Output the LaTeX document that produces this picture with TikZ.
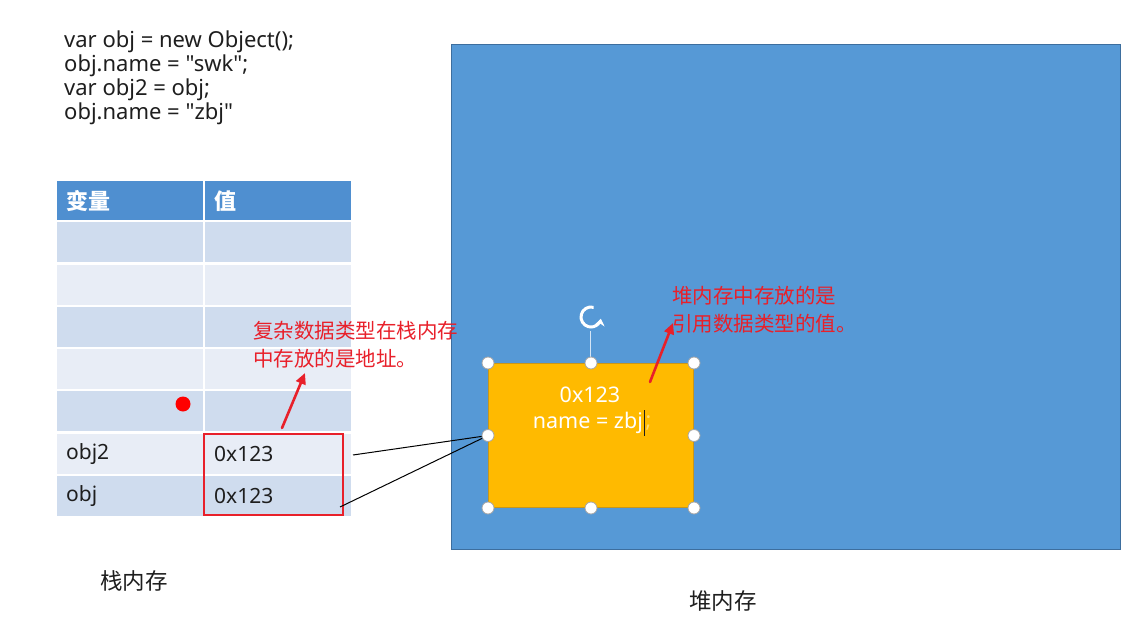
\documentclass[tikz,border=0pt]{standalone}
\usepackage{fontspec}
\newfontfamily\latin{Noto Sans}
\newfontfamily\cjk{Noto Sans CJK SC}
\usetikzlibrary{arrows.meta,calc}

\definecolor{hdrblue}{HTML}{4F8FD0}
\definecolor{rowdark}{HTML}{CFDCEE}
\definecolor{rowlight}{HTML}{E8EDF6}
\definecolor{heapblue}{HTML}{5699D6}
\definecolor{heapedge}{HTML}{3D6E9E}
\definecolor{objorange}{HTML}{FFBA00}
\definecolor{objedge}{HTML}{C8961A}
\definecolor{notered}{HTML}{E8202A}
\definecolor{ink}{HTML}{1E1E1E}

\tikzset{
  txt/.style={font=\latin\fontsize{21.5}{24}\selectfont, text=ink, inner sep=0pt},
  codetxt/.style={font=\latin\fontsize{22}{24}\selectfont, text=ink, inner sep=0pt},
  cjktxt/.style={font=\cjk\fontsize{22.5}{24}\selectfont, text=ink, inner sep=0pt},
  cell/.style={anchor=north west, minimum height=40pt, text width=128pt,
    inner xsep=9pt, inner ysep=0pt, align=left, text=ink,
    font=\latin\fontsize{21}{24}\selectfont},
  hdrcell/.style={cell, fill=hdrblue, minimum height=39pt, text=white,
    font=\cjk\fontsize{22}{24}\selectfont\bfseries},
  darkcell/.style={cell, fill=rowdark},
  lightcell/.style={cell, fill=rowlight},
  note/.style={font=\cjk\fontsize{20.5}{26}\selectfont, text=notered, inner sep=0pt, anchor=base west},
  notearrow/.style={draw=notered, line width=2.6pt, line cap=round,
    -{Triangle[length=11pt,width=10pt]}},
  handle/.style={circle, minimum size=12pt, inner sep=0pt, fill=white, draw=black!35, line width=0.8pt},
  link/.style={draw=black, line width=1pt},
}

\begin{document}
\begin{tikzpicture}[x=1pt,y=-1pt]
\useasboundingbox (0,0) rectangle (1145,631);

% code listing
\node[codetxt, anchor=north west, align=left] (code) at (64,31)
  {var obj = new Object();\\obj.name = "swk";\\var obj2 = obj;\\obj.name = "zbj"};

% stack table
\node[hdrcell] (hv) at (57,181) {变量};
\node[hdrcell] (hw) at (205,181) {值};
\node[darkcell]  (v1) at (57,222.0) {};
\node[darkcell]  (w1) at (205,222.0) {};
\node[lightcell] (v2) at (57,264.3) {};
\node[lightcell] (w2) at (205,264.3) {};
\node[darkcell]  (v3) at (57,306.6) {};
\node[darkcell]  (w3) at (205,306.6) {};
\node[lightcell] (v4) at (57,348.9) {};
\node[lightcell] (w4) at (205,348.9) {};
\node[darkcell]  (v5) at (57,391.2) {};
\node[darkcell]  (w5) at (205,391.2) {};
\node[lightcell] (v6) at (57,433.5) {obj2};
\node[lightcell] (w6) at (205,433.5) {0x123};
\node[darkcell]  (v7) at (57,475.8) {obj};
\node[darkcell]  (w7) at (205,475.8) {0x123};

% marker dot
\node[circle, fill=red, minimum size=15pt, inner sep=0pt] (dot) at (183,404) {};

% highlighted address cells
\node[draw=notered, line width=1.6pt, minimum width=139pt, minimum height=81pt,
  anchor=north west, inner sep=0pt] (addr) at (203,433) {};

% heap area
\node[fill=heapblue, draw=heapedge, line width=1.2pt, minimum width=669pt,
  minimum height=505pt, anchor=north west, inner sep=0pt] (heap) at (451,44) {};

% object on the heap
\node[fill=objorange, draw=objedge, line width=1pt, minimum width=205pt,
  minimum height=144pt, anchor=north west, inner sep=0pt] (obj) at (488,363) {};
\node[txt, text=white] (addrtxt) at (590,395) {0x123};
\node[txt, text=white, anchor=east] (nametxt) at (643,423) {name = zbj};
\node[txt, text=objorange!55!white, anchor=west] (semi) at (645.5,423) {;};
\draw[ink, line width=1pt] (644.5,410) -- (644.5,436);

% rotation grip
\draw[white!75!heapblue, line width=1pt] (590,331) -- (590,357);
\coordinate (rot) at (591,317);
\draw[white, line width=3pt, -{Stealth[length=7pt,width=10pt]}]
  ($(rot)+(285:10)$) arc[start angle=285, end angle=10, radius=10];

% selection handles
\foreach \a/\n in {north west/h1, north/h2, north east/h3, east/h4,
                   south east/h5, south/h6, south west/h7, west/h8}
  \node[handle] (\n) at (obj.\a) {};

% references from the stack to the object
\coordinate (s2) at (353,455);
\coordinate (s1) at (340,507);
\draw[link] (s2) -- (h8);
\draw[link] (s1) -- (h8);

% notes
\node[note] (n1a) at (253,338) {复杂数据类型在栈内存};
\node[note] (n1b) at (253,366) {中存放的是地址。};
\coordinate (a1s) at (282,428);
\coordinate (a1e) at (305,373);
\draw[notearrow] (a1s) -- (a1e);

\node[note] (n2a) at (672,303) {堆内存中存放的是};
\node[note] (n2b) at (672,331) {引用数据类型的值。};
\coordinate (a2s) at (650,382);
\coordinate (a2e) at (673,323);
\draw[notearrow] (a2s) -- (a2e);

% captions
\node[cjktxt] (stackcap) at (134,581) {栈内存};
\node[cjktxt] (heapcap) at (723,601) {堆内存};
\end{tikzpicture}
\end{document}
